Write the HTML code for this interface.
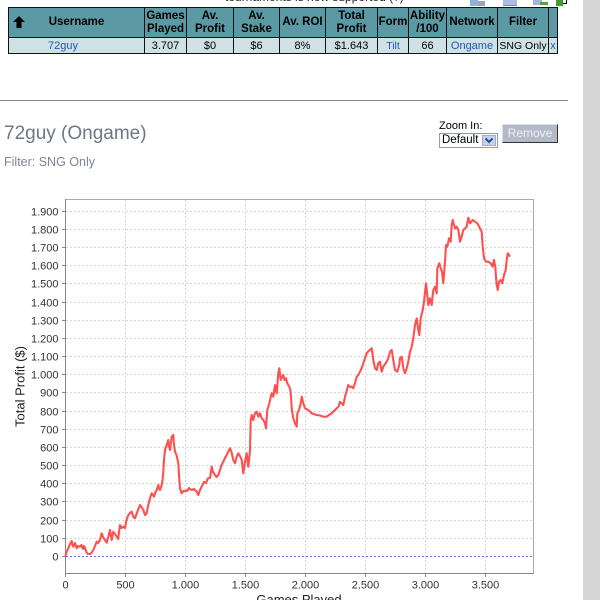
<!DOCTYPE html>
<html>
<head>
<meta charset="utf-8">
<style>
  html,body{margin:0;padding:0;}
  body{width:600px;height:600px;overflow:hidden;background:#fff;position:relative;font-family:"Liberation Sans",Arial,sans-serif;}
  .abs{position:absolute;}
  .tbl{position:absolute;left:8px;top:7px;width:550px;height:47px;background:#111;}
  .c{position:absolute;display:flex;align-items:center;justify-content:center;text-align:center;box-sizing:border-box;}
  .h{top:1px;height:29px;background:#5b9aa5;font-weight:bold;font-size:11.5px;line-height:13px;color:#000;}
  .d{top:31px;height:15px;background:#cfe1e5;font-size:11px;color:#000;}
  .lnk{color:#1f57b5;}
</style>
</head>
<body>

<div class="abs" style="left:225px;top:-10px;font-size:12px;color:#222;white-space:nowrap;">tournaments is now supported (<span class="lnk">?</span>)</div>

<div class="abs" style="left:470px;top:0;width:8px;height:6px;background:#8fb0d8;"></div>
<div class="abs" style="left:478px;top:1px;width:7px;height:5px;background:#9aa6b4;"></div>
<div class="abs" style="left:503px;top:0;width:14px;height:5px;background:#a8c0dc;border-bottom:1px solid #6f8fb5;"></div>
<div class="abs" style="left:533px;top:0;width:9px;height:5px;background:#9fb8d8;"></div>
<div class="abs" style="left:540px;top:2px;width:8px;height:3px;background:#4caa3c;"></div>
<div class="abs" style="left:556px;top:0;width:7px;height:6px;background:#3e9d2e;"></div>
<div class="abs" style="left:563px;top:0;width:3px;height:3px;border-right:1px solid #000;border-bottom:1px solid #000;"></div>

<div class="tbl">
  <div class="c h" style="left:1px;width:135px;">
    <svg class="abs" style="left:4px;top:8px;" width="12" height="13" viewBox="0 0 12 13"><polygon points="6,0 12,6 8.5,6 8.5,12 3.5,12 3.5,6 0,6" fill="#000"/></svg>
    <span>Username</span>
  </div>
  <div class="c h" style="left:137px;width:41px;">Games<br>Played</div>
  <div class="c h" style="left:179px;width:46px;">Av.<br>Profit</div>
  <div class="c h" style="left:226px;width:45px;">Av.<br>Stake</div>
  <div class="c h" style="left:272px;width:45px;">Av. ROI</div>
  <div class="c h" style="left:318px;width:51px;">Total<br>Profit</div>
  <div class="c h" style="left:370px;width:30px;">Form</div>
  <div class="c h" style="left:401px;width:37px;">Ability<br>/100</div>
  <div class="c h" style="left:439px;width:50px;">Network</div>
  <div class="c h" style="left:490px;width:50px;">Filter</div>
  <div class="c h" style="left:541px;width:8px;"></div>
  <div class="c d" style="left:1px;width:135px;justify-content:flex-start;padding-left:39px;"><span class="lnk">72guy</span></div>
  <div class="c d" style="left:137px;width:41px;">3.707</div>
  <div class="c d" style="left:179px;width:46px;">$0</div>
  <div class="c d" style="left:226px;width:45px;">$6</div>
  <div class="c d" style="left:272px;width:45px;">8%</div>
  <div class="c d" style="left:318px;width:51px;">$1.643</div>
  <div class="c d lnk" style="left:370px;width:30px;font-size:10.5px;">Tilt</div>
  <div class="c d" style="left:401px;width:37px;">66</div>
  <div class="c d lnk" style="left:439px;width:50px;">Ongame</div>
  <div class="c d" style="left:490px;width:50px;white-space:nowrap;font-size:10.5px;">SNG Only</div>
  <div class="c d lnk" style="left:541px;width:8px;">x</div>
</div>

<div class="abs" style="left:0;top:100px;width:568px;height:1px;background:#8a8a8a;"></div>

<div class="abs" style="left:4px;top:123px;font-size:19px;color:#6c7886;white-space:nowrap;">72guy (Ongame)</div>
<div class="abs" style="left:4px;top:155px;font-size:12.5px;color:#7d8690;white-space:nowrap;">Filter: SNG Only</div>

<div class="abs" style="left:439px;top:120px;font-size:11px;color:#000;white-space:nowrap;">Zoom In:</div>
<div class="abs" style="left:439px;top:133px;width:59px;height:15px;box-sizing:border-box;border:1px solid #8aa0b8;background:#fff;">
  <div class="abs" style="left:2px;top:0px;font-size:11.5px;color:#000;">Default</div>
  <div class="abs" style="left:42px;top:1px;width:14px;height:11px;background:#c3d3ee;border:1px solid #9ab0d0;box-sizing:border-box;"></div>
  <svg class="abs" style="left:44px;top:3px;" width="10" height="7"><polyline points="1.5,1.5 5,5 8.5,1.5" fill="none" stroke="#2d4d80" stroke-width="2"/></svg>
</div>
<div class="abs" style="left:502px;top:124px;width:56px;height:19px;box-sizing:border-box;background:#b2bac9;border-top:1px solid #d8dde6;border-left:1px solid #d8dde6;border-right:1px solid #333;border-bottom:1px solid #333;color:#eef1f6;font-size:12px;text-align:center;line-height:17px;">Remove</div>

<div class="abs" style="left:583px;top:0;width:17px;height:600px;background:#d6d6d6;"></div>

<svg class="abs" style="left:0;top:0;" width="600" height="600" viewBox="0 0 600 600" font-family="Liberation Sans, Arial, sans-serif">
  <rect x="65.5" y="199.5" width="468" height="374" fill="#fff" stroke="#aaaaaa" stroke-width="1"/>
  <g stroke="#d6d6d6" stroke-width="1" stroke-dasharray="2,2">
    <line x1="66" y1="538.5" x2="533" y2="538.5"/>
    <line x1="66" y1="520.5" x2="533" y2="520.5"/>
    <line x1="66" y1="501.5" x2="533" y2="501.5"/>
    <line x1="66" y1="483.5" x2="533" y2="483.5"/>
    <line x1="66" y1="465.5" x2="533" y2="465.5"/>
    <line x1="66" y1="447.5" x2="533" y2="447.5"/>
    <line x1="66" y1="429.5" x2="533" y2="429.5"/>
    <line x1="66" y1="411.5" x2="533" y2="411.5"/>
    <line x1="66" y1="392.5" x2="533" y2="392.5"/>
    <line x1="66" y1="374.5" x2="533" y2="374.5"/>
    <line x1="66" y1="356.5" x2="533" y2="356.5"/>
    <line x1="66" y1="338.5" x2="533" y2="338.5"/>
    <line x1="66" y1="320.5" x2="533" y2="320.5"/>
    <line x1="66" y1="302.5" x2="533" y2="302.5"/>
    <line x1="66" y1="283.5" x2="533" y2="283.5"/>
    <line x1="66" y1="265.5" x2="533" y2="265.5"/>
    <line x1="66" y1="247.5" x2="533" y2="247.5"/>
    <line x1="66" y1="229.5" x2="533" y2="229.5"/>
    <line x1="66" y1="211.5" x2="533" y2="211.5"/>
    <line x1="125.5" y1="200" x2="125.5" y2="573"/>
    <line x1="185.5" y1="200" x2="185.5" y2="573"/>
    <line x1="245.5" y1="200" x2="245.5" y2="573"/>
    <line x1="305.5" y1="200" x2="305.5" y2="573"/>
    <line x1="365.5" y1="200" x2="365.5" y2="573"/>
    <line x1="425.5" y1="200" x2="425.5" y2="573"/>
    <line x1="485.5" y1="200" x2="485.5" y2="573"/>
  </g>
  <line x1="66" y1="556.5" x2="533" y2="556.5" stroke="#6a6aff" stroke-width="1" stroke-dasharray="2,2"/>
  <line x1="65.5" y1="199" x2="65.5" y2="574" stroke="#888" stroke-width="1"/>
  <line x1="65" y1="573.5" x2="534" y2="573.5" stroke="#888" stroke-width="1"/>
  <g stroke="#888" stroke-width="1">
    <line x1="62" y1="556.5" x2="65" y2="556.5"/>
    <line x1="62" y1="538.5" x2="65" y2="538.5"/>
    <line x1="62" y1="520.5" x2="65" y2="520.5"/>
    <line x1="62" y1="501.5" x2="65" y2="501.5"/>
    <line x1="62" y1="483.5" x2="65" y2="483.5"/>
    <line x1="62" y1="465.5" x2="65" y2="465.5"/>
    <line x1="62" y1="447.5" x2="65" y2="447.5"/>
    <line x1="62" y1="429.5" x2="65" y2="429.5"/>
    <line x1="62" y1="411.5" x2="65" y2="411.5"/>
    <line x1="62" y1="392.5" x2="65" y2="392.5"/>
    <line x1="62" y1="374.5" x2="65" y2="374.5"/>
    <line x1="62" y1="356.5" x2="65" y2="356.5"/>
    <line x1="62" y1="338.5" x2="65" y2="338.5"/>
    <line x1="62" y1="320.5" x2="65" y2="320.5"/>
    <line x1="62" y1="302.5" x2="65" y2="302.5"/>
    <line x1="62" y1="283.5" x2="65" y2="283.5"/>
    <line x1="62" y1="265.5" x2="65" y2="265.5"/>
    <line x1="62" y1="247.5" x2="65" y2="247.5"/>
    <line x1="62" y1="229.5" x2="65" y2="229.5"/>
    <line x1="62" y1="211.5" x2="65" y2="211.5"/>
    <line x1="65.5" y1="574" x2="65.5" y2="577"/>
    <line x1="125.5" y1="574" x2="125.5" y2="577"/>
    <line x1="185.5" y1="574" x2="185.5" y2="577"/>
    <line x1="245.5" y1="574" x2="245.5" y2="577"/>
    <line x1="305.5" y1="574" x2="305.5" y2="577"/>
    <line x1="365.5" y1="574" x2="365.5" y2="577"/>
    <line x1="425.5" y1="574" x2="425.5" y2="577"/>
    <line x1="485.5" y1="574" x2="485.5" y2="577"/>
  </g>
  <g font-size="11" fill="#333" text-anchor="end">
    <text x="58.5" y="560.5">0</text>
    <text x="58.5" y="542.5">100</text>
    <text x="58.5" y="524.5">200</text>
    <text x="58.5" y="505.5">300</text>
    <text x="58.5" y="487.5">400</text>
    <text x="58.5" y="469.5">500</text>
    <text x="58.5" y="451.5">600</text>
    <text x="58.5" y="433.5">700</text>
    <text x="58.5" y="415.5">800</text>
    <text x="58.5" y="396.5">900</text>
    <text x="58.5" y="378.5">1.000</text>
    <text x="58.5" y="360.5">1.100</text>
    <text x="58.5" y="342.5">1.200</text>
    <text x="58.5" y="324.5">1.300</text>
    <text x="58.5" y="306.5">1.400</text>
    <text x="58.5" y="287.5">1.500</text>
    <text x="58.5" y="269.5">1.600</text>
    <text x="58.5" y="251.5">1.700</text>
    <text x="58.5" y="233.5">1.800</text>
    <text x="58.5" y="215.5">1.900</text>
  </g>
  <g font-size="11" fill="#333" text-anchor="middle">
    <text x="65.5" y="588.5">0</text>
    <text x="125.5" y="588.5">500</text>
    <text x="185.5" y="588.5">1.000</text>
    <text x="245.5" y="588.5">1.500</text>
    <text x="305.5" y="588.5">2.000</text>
    <text x="365.5" y="588.5">2.500</text>
    <text x="425.5" y="588.5">3.000</text>
    <text x="485.5" y="588.5">3.500</text>
  </g>
  <text x="299" y="604" font-size="13" fill="#222" text-anchor="middle">Games Played</text>
  <text transform="translate(24.5,386.5) rotate(-90)" font-size="13" fill="#222" text-anchor="middle">Total Profit ($)</text>

  <polyline fill="none" stroke="#ff5050" stroke-width="2.1" stroke-linejoin="round" points="
65.3,556.7 66.5,552 68.3,548.3 70,544 71.7,541 72.5,545 73.3,546.7 75,543 76.7,548.3 78,546 80,546.7 81.5,545 82.5,548 83.3,549 84,546 85,548 86.7,552.7 88,554 90,554 91.5,553 93.3,550 95,546 96.7,541.7 98,543 100,540 101,536 101.7,533.3 103,537 105,540 106.7,542.7 108,538 110,530 111,536 111.7,540 113.3,531.7 115,534 116.7,536.7 118.3,539 119,532 120,525 121.5,528 123.3,526.7 125,528 126.5,520 128.3,515 130,513 131.7,511.7 133.3,516.7 135,518.3 136.5,514 138,510 140,505 141.5,507 143.3,510 145,515 146.7,513.3 148,506 150,498.3 151.7,493.3 153,495 154,496.7 155.5,492 156.7,490 158.3,485 159,488 160,490 161.5,486 162.5,480 163.3,471.7 164,460 165,450 166.7,445 168.3,440 169,446 170,450 171,442 171.7,436.7 173.3,435 174,445 175,451.7 176.5,455 178.3,463.3 179,475 180,488.3 181.7,493.3 183.5,491 185,490.7 187,491 189,488 190,489.3 192,490 194,489 196.7,491.7 198.3,495 200,490 202,486 204,482 206,483 208,478.3 210,478 211.7,466.7 213,472 215,475 216.5,477 218.3,475 220,470 221.5,465 223.3,461.7 225,458 226.7,455 228.5,451 230,448.3 231.5,452 233.3,460 235,463.3 236.7,456.7 238.3,453.3 240,456 241.7,460 243.3,473.3 245,461.7 246.7,453.3 248.3,466.7 249.3,458 250,450 250.7,420 251.7,415 253.3,420 255,413.3 256.7,411.7 258.3,416.7 260,413.3 261.7,418.3 263.3,420 265,423.3 266,428.3 267.3,410 269.3,403.3 270.5,398 271.7,393.3 273.3,396.7 275,385 276.7,393.3 278.3,373.3 279.3,368.3 280.7,380 282,377 283.3,375 284.5,380 286,378.3 287.3,383.3 289.3,386.7 290.3,390 291,396.7 291.7,408.3 293.3,418.3 295,423.3 296.7,426.7 297.3,413.3 299,410 300.7,403.3 301.7,396.7 303.3,403.3 305,408.3 308.3,410 311.7,413.3 316.7,415 320,415.5 323.3,416.7 326.7,416.7 329,415 331.7,413.3 335,410 338.3,406.7 340,402 341.7,403.3 343.3,405 345,396.7 348.3,385 350,387 351.7,386.7 353.3,388.3 355,383 356.7,376.7 358.3,375 360,371.7 361.7,368 363.3,363.3 365,358 366.7,353.3 368.5,351 370,350 371.7,348.3 372.5,354 373.3,360 375,368.3 376.7,370 378.3,363.3 380,361.7 381.7,371.7 383.3,366.7 385,364 386.7,361.7 388.3,358.3 390,351.7 391.7,350 393.3,360 395,370 397.3,371.7 399.3,365 400,358.3 401.7,356.7 403.3,368.3 405,373.3 406.7,368.3 408.3,361.7 410,351.7 411.7,346.7 413.3,338.3 415,325 416.7,318.3 418.3,330 419.3,335 420.7,318.3 422.7,310 424,301.7 426,283.3 427.3,295 428.3,305 430,298.3 431.7,305 433.3,290 435,286.7 436.7,293.3 437.3,268.3 439.3,263.3 440.7,268.3 442,271.7 443.3,283.3 445,261.7 446,245 447.3,246.7 449,238.3 450.7,241.7 451.7,225 452.7,220 455,228.3 456.7,226.7 458.3,230 460,241.7 461.7,236.7 463.3,230 466.7,226.7 468.3,217.7 470,223.3 472.7,220 475,221.7 477.3,223.3 480,228.3 481.7,231.7 482.7,246.7 484,258.3 486,261.7 488.3,261.7 490.7,263.3 492.7,266.7 494,260 495.3,266.7 496,276.7 496.7,285 497.7,290 499,281.7 500.7,280 502.3,283.3 504,275 505.7,270 506.7,260 507.7,253.3 509,255 510,256.7"/>
</svg>

</body>
</html>
